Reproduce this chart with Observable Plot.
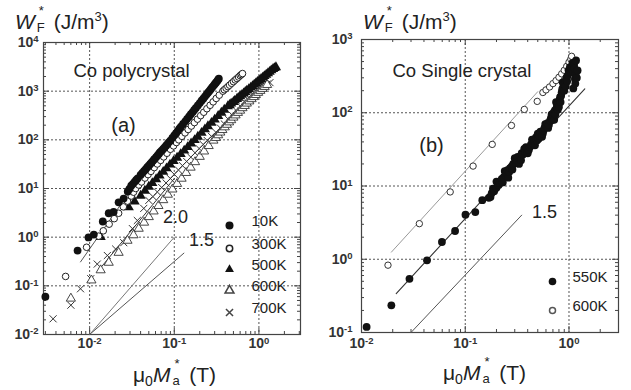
<!DOCTYPE html>
<html><head><meta charset="utf-8">
<script src="https://cdn.jsdelivr.net/npm/d3@7"></script>
<script src="https://cdn.jsdelivr.net/npm/@observablehq/plot@0.6"></script>
<style>
body{margin:0;background:#fff;}
#wrap{position:relative;width:631px;height:390px;font-family:"Liberation Sans",Arial,sans-serif;color:#222;overflow:hidden;background:#fff;}
.pl{position:absolute;top:0;}
.lab{position:absolute;white-space:nowrap;font-size:21px;line-height:1;}
.st{display:inline-block;position:relative;width:11px;height:21px;margin-left:2px;}
.sp{position:absolute;left:2px;top:-4px;font-size:13px;line-height:1;}
.sb{position:absolute;left:0;top:13px;font-size:13px;line-height:1;}
.lab sup{font-size:13px;line-height:0;vertical-align:8px;}
.lab sub{font-size:14px;line-height:0;vertical-align:-4px;}
</style></head><body>
<div id="wrap">
  <div class="pl" id="pa" style="left:0"></div>
  <div class="pl" id="pb" style="left:310px"></div>
  <div class="lab" style="left:15px;top:8px"><i>W</i><span class="st"><span class="sp">*</span><span class="sb">F</span></span> (J/m<sup>3</sup>)</div>
  <div class="lab" style="left:363px;top:8px"><i>W</i><span class="st"><span class="sp">*</span><span class="sb">F</span></span> (J/m<sup>3</sup>)</div>
  <div class="lab" style="left:133px;top:361px">&mu;<sub>0</sub><i>M</i><span class="st"><span class="sp">*</span><span class="sb">a</span></span> (T)</div>
  <div class="lab" style="left:443px;top:359px">&mu;<sub>0</sub><i>M</i><span class="st"><span class="sp">*</span><span class="sb">a</span></span> (T)</div>
</div>
<script>
// ---------- Panel (a): Co polycrystal ----------
const poly10K = [[0.0030,0.060],[0.0072,0.53],[0.0097,0.99],[0.0112,1.13],[0.0143,2.1],[0.0168,3.1],[0.0192,3.3],[0.022,5.2],[0.0252,6.2],[0.0282,8.7],[0.0295,9.8],[0.031,11.4],[0.0325,12.5],[0.034,13.7],[0.0355,15],[0.037,16.2],[0.040,19],[0.042,21],[0.044,22.9],[0.046,25],[0.048,27.3],[0.050,29.5],[0.052,32],[0.054,34.5],[0.056,37],[0.058,40],[0.061,44],[0.0635,48],[0.066,52],[0.068,56],[0.071,60],[0.074,65],[0.077,70],[0.080,76],[0.083,82],[0.086,89],[0.090,96],[0.095,110],[0.100,124],[0.105,138],[0.110,153],[0.115,170],[0.120,186],[0.127,212],[0.135,240],[0.142,270],[0.150,302],[0.157,337],[0.165,372],[0.172,410],[0.180,452],[0.190,510],[0.200,569],[0.210,635],[0.220,700],[0.230,775],[0.240,850],[0.250,930],[0.260,1010],[0.270,1100],[0.280,1200],[0.290,1290],[0.300,1390],[0.310,1490],[0.320,1590],[0.328,1700],[0.336,1800]];
const poly300K = [[0.0052,0.156],[0.0092,0.62],[0.0128,1.05],[0.0145,1.35],[0.0170,1.85],[0.0195,2.4],[0.022,3.1],[0.025,4.2],[0.028,5.5],[0.031,7.0],[0.033,8.4],[0.035,10],[0.038,11.8],[0.041,13.6],[0.045,16.4],[0.049,19.3],[0.053,22.5],[0.058,26.9],[0.063,31.9],[0.069,37.8],[0.075,44.6],[0.082,53],[0.090,64],[0.098,75],[0.106,88],[0.113,100],[0.123,118],[0.134,139],[0.146,163],[0.159,192],[0.173,226],[0.188,266],[0.205,314],[0.223,369],[0.243,436],[0.265,513],[0.288,603],[0.313,709],[0.340,828],[0.375,1000],[0.39,1070],[0.41,1150],[0.43,1240],[0.45,1330],[0.475,1450],[0.50,1570],[0.525,1700],[0.55,1820],[0.575,1950],[0.60,2090],[0.62,2200],[0.64,2300]];
const poly500K = [[0.0135,1.0],[0.029,4.1],[0.034,5.4],[0.040,7.1],[0.045,9.0],[0.050,10.9],[0.055,12.9],[0.061,15.5],[0.067,18.4],[0.074,22],[0.081,26],[0.089,31],[0.098,36.5],[0.108,43],[0.119,51],[0.131,60],[0.144,71],[0.158,84],[0.174,99],[0.190,116],[0.210,139],[0.230,164],[0.250,190],[0.275,224],[0.300,261],[0.330,310],[0.360,360],[0.390,415],[0.430,490],[0.450,520],[0.470,555],[0.500,600],[0.520,640],[0.550,690],[0.570,730],[0.600,785],[0.630,840],[0.660,900],[0.690,960],[0.720,1030],[0.760,1100],[0.800,1180],[0.840,1270],[0.880,1360],[0.920,1450],[0.960,1550],[1.01,1660],[1.06,1780],[1.11,1900],[1.16,2040],[1.22,2180],[1.28,2340],[1.34,2500],[1.40,2680],[1.47,2850],[1.53,2980],[1.59,3110]];
const poly600K = [[0.0060,0.055],[0.0105,0.13],[0.0135,0.21],[0.0168,0.30],[0.022,0.48],[0.028,0.85],[0.033,1.1],[0.038,1.5],[0.044,2.0],[0.050,2.6],[0.057,3.4],[0.065,4.4],[0.074,5.8],[0.084,7.5],[0.095,9.6],[0.108,12.5],[0.122,16],[0.138,21],[0.156,27],[0.176,35],[0.200,45],[0.225,58],[0.255,75],[0.290,97],[0.310,110],[0.330,125],[0.350,142],[0.370,160],[0.395,182],[0.420,205],[0.445,230],[0.470,255],[0.500,288],[0.530,320],[0.565,360],[0.600,400],[0.640,450],[0.680,500],[0.720,560],[0.770,620],[0.820,690],[0.870,760],[0.920,840],[0.980,930],[1.04,1020],[1.10,1120],[1.17,1230],[1.25,1350]];
const poly700K = [[0.0037,0.021],[0.0060,0.040],[0.0078,0.087],[0.0103,0.14],[0.0123,0.28],[0.0162,0.42],[0.0203,0.57],[0.0253,0.77],[0.032,1.5],[0.0366,2.2],[0.0436,3.9],[0.050,5.7],[0.056,6.8],[0.063,8.5],[0.071,10.5],[0.080,13],[0.090,16],[0.100,19.5],[0.112,24],[0.125,29.5],[0.140,36],[0.157,44],[0.176,54],[0.197,66],[0.220,80],[0.245,97],[0.275,118],[0.310,143],[0.350,175],[0.390,212],[0.440,260],[0.490,315],[0.550,385],[0.620,470],[0.700,570],[0.780,690],[0.880,830],[0.980,990],[1.10,1180],[1.25,1400],[1.35,1500]];
const polyFit300K = [[0.0078,0.31],[0.045,24]];
const polyFit700K = [[0.0128,0.21],[0.10,16]];
const polySlope20 = [[0.01,0.01],[0.1,1.0]];
const polySlope15 = [[0.01,0.01],[0.13,0.47]];
const polyLegend = ["10K","300K","500K","600K","700K"];

// ---------- Panel (b): Co single crystal ----------
const sc550K = [[0.0112,0.119],[0.0194,0.235],[0.029,0.54],[0.0428,0.966],[0.0596,1.72],[0.0798,2.43],[0.1005,4.05],[0.125,4.4],[0.146,6.4],[0.169,6.9],[0.175,7.1],[0.18,8.0],[0.185,9.2],[0.19,8.5],[0.20,9.5],[0.20,11.5],[0.21,10.3],[0.215,11],[0.225,12.5],[0.23,11.2],[0.235,13.2],[0.24,16],[0.245,14],[0.25,15],[0.255,16.5],[0.26,13],[0.265,15.5],[0.27,17.5],[0.28,18.5],[0.285,16.8],[0.29,20],[0.30,24],[0.31,21],[0.316,22.3],[0.32,25],[0.33,20],[0.34,25],[0.345,22.5],[0.35,28],[0.36,27],[0.37,32],[0.38,29],[0.385,34],[0.394,30.6],[0.40,28],[0.41,31],[0.42,34],[0.43,37],[0.44,43],[0.45,38],[0.46,40],[0.47,36],[0.48,46],[0.491,41.9],[0.50,52],[0.51,44],[0.52,48],[0.53,55],[0.55,47],[0.56,52],[0.568,57.4],[0.58,62],[0.59,70],[0.61,66],[0.62,72],[0.63,62],[0.64,68],[0.658,78.5],[0.67,85],[0.68,95],[0.69,80],[0.70,92],[0.71,100],[0.72,80],[0.73,108],[0.74,95],[0.75,140],[0.762,119],[0.77,130],[0.78,110],[0.79,140],[0.80,120],[0.81,150],[0.82,163],[0.83,140],[0.84,170],[0.85,190],[0.86,210],[0.87,260],[0.88,223],[0.89,250],[0.90,200],[0.92,265],[0.93,230],[0.94,285],[0.95,306],[0.96,270],[0.97,320],[0.99,380],[1.0,350],[1.02,420],[1.04,360],[1.06,398],[1.08,480],[1.10,215],[1.12,450],[1.13,400],[1.14,290],[1.15,250],[1.16,330],[1.17,517],[1.19,300],[1.21,378]];
const sc600K = [[0.018,0.83],[0.0361,3.06],[0.0716,8.3],[0.119,18.7],[0.182,37],[0.279,67],[0.371,111],[0.494,143],[0.56,189],[0.60,205],[0.65,225],[0.70,250],[0.75,275],[0.80,305],[0.85,340],[0.90,380],[0.95,430],[1.00,490],[1.04,540],[1.06,590]];
const scFit550K = [[0.0216,0.34],[1.42,212]];
const scFit600K = [[0.0194,1.25],[0.50,194]];
const scSlope15 = [[0.03,0.1],[0.35,4.0]];
const scLegend = ["550K","600K"];

// ---------- helpers ----------
const FONT = "Liberation Sans, Arial, sans-serif";
function minors(lo, hi) {
  const out = [];
  for (let e = Math.floor(Math.log10(lo)); e <= Math.ceil(Math.log10(hi)); e++)
    for (let m = 2; m <= 9; m++) { const v = m * Math.pow(10, e); if (v > lo * 1.0001 && v < hi * 0.9999) out.push(v); }
  return out;
}
const fmt = d => "10^" + Math.round(Math.log10(d));
const pt = d => ({x: d[0], y: d[1]});

function panel({width, height, mL, mR, mT, mB, xDomain, yDomain, xMajor, yMajor, xGrid, yGrid, yPad, xPad, marks}) {
  const fw = width - mL - mR, fh = height - mT - mB;
  const tickStyle = {stroke: "#444", strokeWidth: 1};
  const xMin = minors(...xDomain), yMin = minors(...yDomain);
  const xTicksAll = xMajor.filter(v => v > xDomain[0] && v < xDomain[1]);
  const yTicksAll = yMajor.filter(v => v > yDomain[0] && v < yDomain[1]);
  const p = Plot.plot({
    width, height, marginLeft: mL, marginRight: mR, marginTop: mT, marginBottom: mB,
    style: {fontFamily: FONT, background: "transparent", color: "#222", overflow: "visible"},
    x: {type: "log", domain: xDomain},
    y: {type: "log", domain: yDomain},
    marks: [
      Plot.ruleX(xGrid, {stroke: "#555", strokeWidth: 1, strokeDasharray: "2,2"}),
      Plot.ruleY(yGrid, {stroke: "#555", strokeWidth: 1, strokeDasharray: "2,2"}),
      Plot.ruleX(xTicksAll, {...tickStyle, insetTop: fh - 6}),
      Plot.ruleX(xTicksAll, {...tickStyle, insetBottom: fh - 6}),
      Plot.ruleX(xMin, {...tickStyle, insetTop: fh - 3}),
      Plot.ruleX(xMin, {...tickStyle, insetBottom: fh - 3}),
      Plot.ruleY(yTicksAll, {...tickStyle, insetRight: fw - 6}),
      Plot.ruleY(yTicksAll, {...tickStyle, insetLeft: fw - 6}),
      Plot.ruleY(yMin, {...tickStyle, insetRight: fw - 3}),
      Plot.ruleY(yMin, {...tickStyle, insetLeft: fw - 3}),
      Plot.frame({stroke: "#444", strokeWidth: 1.2}),
      Plot.axisX(xMajor, {tickSize: 0, tickPadding: xPad, tickFormat: fmt, label: null, fontSize: 14, fontWeight: "bold", fill: "#333"}),
      Plot.axisY(yMajor, {tickSize: 0, tickPadding: yPad, tickFormat: fmt, label: null, fontSize: 14, fontWeight: "bold", fill: "#333"}),
      ...marks
    ]
  });
  d3.select(p).selectAll("g[aria-label$='tick label'] text").each(function() {
    const t = d3.select(this);
    const m = t.text().match(/^10\^(-?\d+)$/);
    if (!m) return;
    t.text("");
    t.append("tspan").text("10");
    t.append("tspan").attr("dy", "-0.5em").attr("font-size", "0.68em").text(m[1]);
  });
  return p;
}

// Panel (a)
const symA = [
  {data: poly700K, symbol: "times", fill: "none", stroke: "#333", r: 3.3, strokeWidth: 1},
  {data: poly600K, symbol: "triangle", fill: "white", stroke: "#333", r: 3.4, strokeWidth: 0.9},
  {data: poly500K, symbol: "triangle", fill: "#111", stroke: "none", r: 3.8},
  {data: poly300K, symbol: "circle", fill: "white", stroke: "#222", r: 3.3, strokeWidth: 1},
  {data: poly10K, symbol: "circle", fill: "#111", stroke: "none", r: 3.9}
];
const legA = [
  {symbol: "circle", fill: "#111", stroke: "none", r: 4},
  {symbol: "circle", fill: "white", stroke: "#222", r: 3.2},
  {symbol: "triangle", fill: "#111", stroke: "none", r: 3.3},
  {symbol: "triangle", fill: "white", stroke: "#444", r: 3.3},
  {symbol: "times", fill: "none", stroke: "#444", r: 3.3}
];
const legRowsA = [-109, -86, -65, -44, -22];
const marksA = [
  Plot.line(polySlope20.map(pt), {x: "x", y: "y", stroke: "#777", strokeWidth: 1}),
  Plot.line(polySlope15.map(pt), {x: "x", y: "y", stroke: "#555", strokeWidth: 1}),
  Plot.line(polyFit300K.map(pt), {x: "x", y: "y", stroke: "#555", strokeWidth: 1}),
  Plot.line(polyFit700K.map(pt), {x: "x", y: "y", stroke: "#333", strokeWidth: 1}),
  ...symA.map(s => Plot.dot(s.data.map(pt), {x: "x", y: "y", symbol: s.symbol, fill: s.fill, stroke: s.stroke, r: s.r, strokeWidth: s.strokeWidth || 1})),
  ...legA.map((s, i) => Plot.dot([polyLegend[i]], {x: null, y: null, frameAnchor: "bottom-right", dx: -71, dy: legRowsA[i], symbol: s.symbol, fill: s.fill, stroke: s.stroke, r: s.r})),
  ...polyLegend.map((s, i) => Plot.text([s], {text: d => d, frameAnchor: "bottom-right", dx: -49, dy: legRowsA[i], textAnchor: "start", fontSize: 15, fill: "#222"})),
  Plot.text(["Co polycrystal"], {text: d => d, frameAnchor: "top-left", dx: 30, dy: 21, textAnchor: "start", fontSize: 18.5, fill: "#222"}),
  Plot.text(["(a)"], {text: d => d, frameAnchor: "top-left", dx: 80, dy: 75, textAnchor: "middle", fontSize: 20, fill: "#222"}),
  Plot.text(["2.0"], {text: d => d, frameAnchor: "bottom-left", dx: 132, dy: -112, textAnchor: "middle", fontSize: 18, fill: "#222"}),
  Plot.text(["1.5"], {text: d => d, frameAnchor: "bottom-left", dx: 158, dy: -89, textAnchor: "middle", fontSize: 18, fill: "#222"})
];
document.getElementById("pa").appendChild(panel({
  width: 310, height: 390, mL: 43, mR: 10, mT: 42, mB: 56,
  xDomain: [0.00285, 3.1], yDomain: [0.01, 10000],
  xMajor: [0.01, 0.1, 1], yMajor: [0.01, 0.1, 1, 10, 100, 1000, 10000],
  xGrid: [0.01, 0.1, 1], yGrid: [0.1, 1, 10, 100, 1000],
  yPad: 5, xPad: 4, marks: marksA
}));

// Panel (b)
const legRowsB = [-51, -22];
const marksB = [
  Plot.line(scSlope15.map(pt), {x: "x", y: "y", stroke: "#555", strokeWidth: 1}),
  Plot.line(scFit600K.map(pt), {x: "x", y: "y", stroke: "#999", strokeWidth: 1}),
  Plot.line(scFit550K.map(pt), {x: "x", y: "y", stroke: "#333", strokeWidth: 1.1}),
  Plot.dot(sc600K.map(pt), {x: "x", y: "y", symbol: "circle", fill: "white", stroke: "#333", r: 3.2, strokeWidth: 1}),
  Plot.dot(sc550K.map(pt), {x: "x", y: "y", symbol: "circle", fill: "#111", stroke: "none", r: 3.9}),
  Plot.dot([scLegend[0]], {x: null, y: null, frameAnchor: "bottom-right", dx: -66, dy: legRowsB[0], symbol: "circle", fill: "#111", r: 3.8}),
  Plot.dot([scLegend[1]], {x: null, y: null, frameAnchor: "bottom-right", dx: -66, dy: legRowsB[1], symbol: "circle", fill: "white", stroke: "#555", r: 3}),
  ...scLegend.map((s, i) => Plot.text([s], {text: d => d, frameAnchor: "bottom-right", dx: -46, dy: legRowsB[i], textAnchor: "start", fontSize: 15, fill: "#222"})),
  Plot.text(["Co Single crystal"], {text: d => d, frameAnchor: "top-left", dx: 31, dy: 24, textAnchor: "start", fontSize: 18.5, fill: "#222"}),
  Plot.text(["(b)"], {text: d => d, frameAnchor: "top-left", dx: 70, dy: 98, textAnchor: "middle", fontSize: 20, fill: "#222"}),
  Plot.text(["1.5"], {text: d => d, frameAnchor: "top-left", dx: 183, dy: 166, textAnchor: "middle", fontSize: 18, fill: "#222"})
];
document.getElementById("pb").appendChild(panel({
  width: 321, height: 390, mL: 51, mR: 13, mT: 39, mB: 58,
  xDomain: [0.01, 3], yDomain: [0.1, 1000],
  xMajor: [0.01, 0.1, 1], yMajor: [0.1, 1, 10, 100, 1000],
  xGrid: [0.1, 1], yGrid: [1, 10, 100],
  yPad: 9, xPad: 6, marks: marksB
}));
</script>
</body></html>
